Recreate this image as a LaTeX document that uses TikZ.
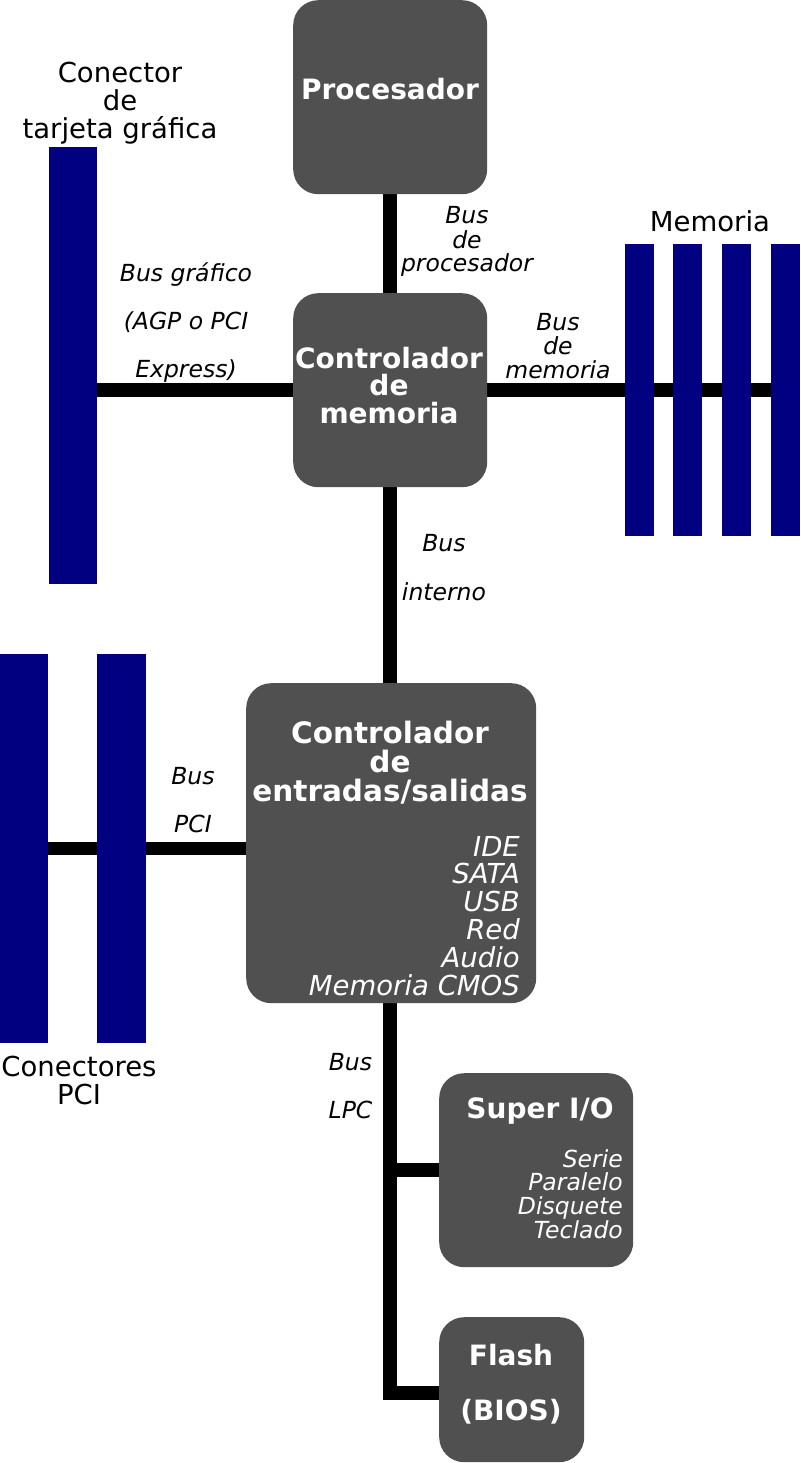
\documentclass[tikz,border=0pt]{standalone}
\usepackage{fontspec}
\setmainfont{DejaVu Sans}
\definecolor{chipgray}{RGB}{80,80,80}
\definecolor{slotblue}{RGB}{0,0,128}
\pgfdeclarelayer{bg}
\pgfsetlayers{bg,main}
\begin{document}
\begin{tikzpicture}[x=1pt,y=-1pt,
  chip/.style={fill=chipgray, draw=none, rounded corners=25pt, inner sep=0pt, anchor=north west},
  slot/.style={fill=slotblue, draw=none, inner sep=0pt, anchor=north west},
  bus/.style={line width=13.5pt, black, line join=miter},
  ttl/.style={text=white, font=\bfseries\fontsize{28}{28}\selectfont, inner sep=0pt, anchor=base},
  itm/.style={text=white, font=\itshape\fontsize{27.5}{28}\selectfont, inner sep=0pt, anchor=base east},
  sitm/.style={text=white, font=\itshape\fontsize{23.5}{24}\selectfont, inner sep=0pt, anchor=base east},
  lab/.style={font=\fontsize{27.5}{28}\selectfont, inner sep=0pt, anchor=base},
  blab/.style={font=\itshape\fontsize{23.5}{24}\selectfont, inner sep=0pt, anchor=base}
]
\useasboundingbox (0,0) rectangle (800,1463);

% chips
\node[chip, minimum width=194, minimum height=194] (proc) at (293,0) {};
\node[chip, minimum width=194, minimum height=194] (mc) at (293,293) {};
\node[chip, minimum width=290, minimum height=320] (io) at (246,683) {};
\node[chip, minimum width=194, minimum height=194] (sio) at (439,1073) {};
\node[chip, minimum width=145, minimum height=145] (flash) at (439,1317) {};

% slots
\node[slot, minimum width=48, minimum height=437] (agp) at (49,147) {};
\node[slot, minimum width=29, minimum height=292] (m1) at (625,244) {};
\node[slot, minimum width=29, minimum height=292] (m2) at (673,244) {};
\node[slot, minimum width=29, minimum height=292] (m3) at (722,244) {};
\node[slot, minimum width=29, minimum height=292] (m4) at (771,244) {};
\node[slot, minimum width=48, minimum height=389] (pci1) at (0,654) {};
\node[slot, minimum width=49, minimum height=389] (pci2) at (97,654) {};

% bus end points
\coordinate (pcistart) at ([yshift=-5.5pt]io.west);
\coordinate (flashin) at ([yshift=-3.5pt]flash.west);

% buses
\begin{pgfonlayer}{bg}
\draw[bus] (proc.south) -- (mc.north);
\draw[bus] (mc.west) -- (mc.west -| agp.east);
\draw[bus] (mc.east) -- (mc.east -| m4.east);
\draw[bus] (mc.south) -- (mc.south |- io.north);
\draw[bus] (pcistart) -- (pcistart -| pci1.east);
\draw[bus] (mc.south |- io.south) -- (mc.south |- flashin) -- (flashin);
\draw[bus] (sio.west) -- (sio.west -| mc.south);
\end{pgfonlayer}

% chip titles
\node[ttl] (tproc) at (390,100) {Procesador};
\node[ttl] (tmc1) at (389,368) {Controlador};
\node[ttl] (tmc2) at (389,395.5) {de};
\node[ttl] (tmc3) at (389,423) {memoria};
\node[ttl, font=\bfseries\fontsize{29.5}{30}\selectfont] (tio1) at (390,743) {Controlador};
\node[ttl, font=\bfseries\fontsize{29.5}{30}\selectfont] (tio2) at (390,772) {de};
\node[ttl, font=\bfseries\fontsize{29.5}{30}\selectfont] (tio3) at (390,801) {entradas/salidas};
\node[itm] (i1) at (520,856) {IDE};
\node[itm] (i2) at (520,883.8) {SATA};
\node[itm] (i3) at (520,911.6) {USB};
\node[itm] (i4) at (520,939.4) {Red};
\node[itm] (i5) at (520,967.2) {Audio};
\node[itm] (i6) at (520,995) {Memoria CMOS};
\node[ttl] (tsio) at (540,1118) {Super I/O};
\node[sitm] (s1) at (623,1167) {Serie};
\node[sitm] (s2) at (623,1190.7) {Paralelo};
\node[sitm] (s3) at (623,1214.4) {Disquete};
\node[sitm] (s4) at (623,1238) {Teclado};
\node[ttl] (tfl1) at (511,1365) {Flash};
\node[ttl] (tfl2) at (511,1420.5) {(BIOS)};

% outside labels
\node[lab] (lagp1) at (120,83) {Conector};
\node[lab] (lagp2) at (120,111) {de};
\node[lab] (lagp3) at (120,139) {tarjeta gráfica};
\node[lab] (lmem) at (710,232) {Memoria};
\node[lab] (lpci1) at (79,1076.5) {Conectores};
\node[lab] (lpci2) at (79,1104) {PCI};

% bus labels
\node[blab] (bp1) at (467,224) {Bus};
\node[blab] (bp2) at (467,248) {de};
\node[blab] (bp3) at (467,272) {procesador};
\node[blab] (bg1) at (186,281) {Bus gráfico};
\node[blab] (bg2) at (186,329) {(AGP o PCI};
\node[blab] (bg3) at (186,377) {Express)};
\node[blab] (bm1) at (558,330) {Bus};
\node[blab] (bm2) at (558,354) {de};
\node[blab] (bm3) at (558,378) {memoria};
\node[blab] (bi1) at (444,551) {Bus};
\node[blab] (bi2) at (444,600) {interno};
\node[blab] (bpc1) at (193,784) {Bus};
\node[blab] (bpc2) at (193,832.5) {PCI};
\node[blab] (bl1) at (350.5,1070) {Bus};
\node[blab] (bl2) at (350.5,1118) {LPC};
\end{tikzpicture}
\end{document}
